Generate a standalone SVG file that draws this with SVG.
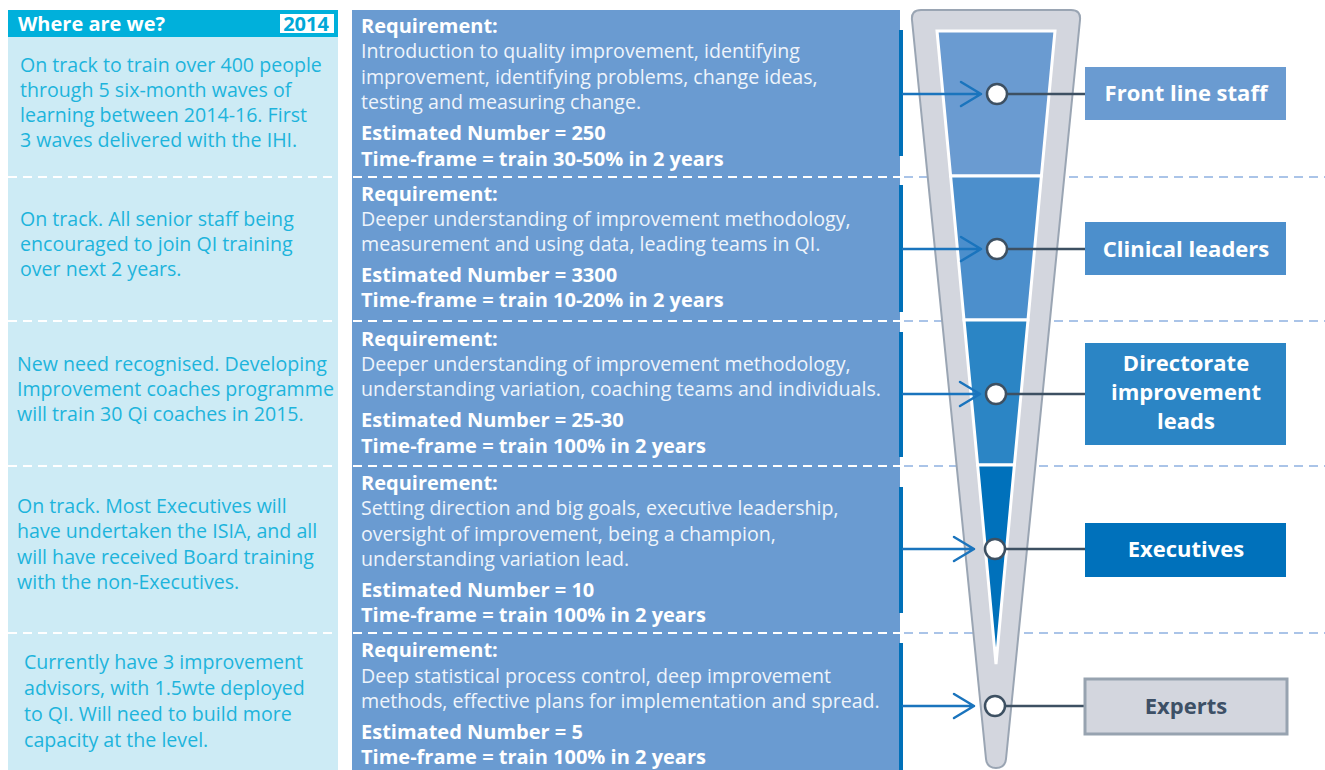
<svg xmlns="http://www.w3.org/2000/svg" width="1325" height="770" viewBox="0 0 1325 770">
<style>
  .lt { font-family: "Open Sans", "Noto Sans", sans-serif; font-size: 19.6px; fill: #1db4dc; }
  .mb { font-family: "Open Sans", "Noto Sans", sans-serif; font-size: 20px; fill: #ffffff; font-weight: bold; }
  .mn { font-family: "Open Sans", "Noto Sans", sans-serif; font-size: 19.6px; fill: #eef4fb; }
  .bx { font-family: "Open Sans", "Noto Sans", sans-serif; font-size: 22px; fill: #ffffff; font-weight: bold; text-anchor: middle; }
  .dw { stroke: #ffffff; stroke-width: 2; stroke-dasharray: 9 6; fill: none; }
  .db { stroke: #aac4e8; stroke-width: 2; stroke-dasharray: 9 6; fill: none; }
  .bar { fill: #0070b8; }
  .arr { stroke: #1a74bd; stroke-width: 2.5; fill: none; stroke-linecap: round; stroke-linejoin: round; }
  .lnk { stroke: #3d5062; stroke-width: 2.5; fill: none; }
  .dot { fill: #ffffff; stroke: #3d5062; stroke-width: 2.5; }
  .seg { stroke: #ffffff; stroke-width: 3; stroke-linejoin: miter; }
</style>

<!-- left column -->
<g id="where-column">
  <rect x="8" y="10" width="330" height="760" fill="#cdebf5"/>
  <rect x="8" y="10" width="330" height="27" fill="#00b0db"/>
  <text x="18" y="31" font-family="'Open Sans', 'Noto Sans', sans-serif" font-size="20" font-weight="bold" fill="#ffffff">Where are we?</text>
  <rect x="280" y="14" width="54" height="19" fill="#ffffff"/>
  <text x="306" y="31" font-family="'Open Sans', 'Noto Sans', sans-serif" font-size="20" font-weight="bold" fill="#00a8d8" text-anchor="middle">2014</text>
  <text class="lt" x="20" y="72">On track to train over 400 people</text>
  <text class="lt" x="20" y="97">through 5 six-month waves of</text>
  <text class="lt" x="20" y="122">learning between 2014-16. First</text>
  <text class="lt" x="20" y="147">3 waves delivered with the IHI.</text>
  <text class="lt" x="20" y="226">On track. All senior staff being</text>
  <text class="lt" x="20" y="251">encouraged to join QI training</text>
  <text class="lt" x="20" y="276">over next 2 years.</text>
  <text class="lt" x="17" y="371">New need recognised. Developing</text>
  <text class="lt" x="17" y="396">Improvement coaches programme</text>
  <text class="lt" x="17" y="421">will train 30 Qi coaches in 2015.</text>
  <text class="lt" x="17" y="513">On track. Most Executives will</text>
  <text class="lt" x="17" y="538">have undertaken the ISIA, and all</text>
  <text class="lt" x="17" y="564">will have received Board training</text>
  <text class="lt" x="17" y="589">with the non-Executives.</text>
  <text class="lt" x="24" y="669">Currently have 3 improvement</text>
  <text class="lt" x="24" y="695">advisors, with 1.5wte deployed</text>
  <text class="lt" x="24" y="721">to QI. Will need to build more</text>
  <text class="lt" x="24" y="747">capacity at the level.</text>
</g>

<!-- middle column -->
<g id="requirements-column">
  <rect x="352" y="10" width="548" height="760" fill="#6a9bd1"/>
  <text class="mb" x="361" y="33">Requirement:</text>
  <text class="mn" x="361" y="58">Introduction to quality improvement, identifying</text>
  <text class="mn" x="361" y="84">improvement, identifying problems, change ideas,</text>
  <text class="mn" x="361" y="109">testing and measuring change.</text>
  <text class="mb" x="361" y="140">Estimated Number = 250</text>
  <text class="mb" x="361" y="166">Time-frame = train 30-50% in 2 years</text>

  <text class="mb" x="361" y="201">Requirement:</text>
  <text class="mn" x="361" y="226">Deeper understanding of improvement methodology,</text>
  <text class="mn" x="361" y="251">measurement and using data, leading teams in QI.</text>
  <text class="mb" x="361" y="282">Estimated Number = 3300</text>
  <text class="mb" x="361" y="307">Time-frame = train 10-20% in 2 years</text>

  <text class="mb" x="361" y="346">Requirement:</text>
  <text class="mn" x="361" y="371">Deeper understanding of improvement methodology,</text>
  <text class="mn" x="361" y="396">understanding variation, coaching teams and individuals.</text>
  <text class="mb" x="361" y="427">Estimated Number = 25-30</text>
  <text class="mb" x="361" y="453">Time-frame = train 100% in 2 years</text>

  <text class="mb" x="361" y="490">Requirement:</text>
  <text class="mn" x="361" y="515">Setting direction and big goals, executive leadership,</text>
  <text class="mn" x="361" y="541">oversight of improvement, being a champion,</text>
  <text class="mn" x="361" y="566">understanding variation lead.</text>
  <text class="mb" x="361" y="597">Estimated Number = 10</text>
  <text class="mb" x="361" y="622">Time-frame = train 100% in 2 years</text>

  <text class="mb" x="361" y="657">Requirement:</text>
  <text class="mn" x="361" y="683">Deep statistical process control, deep improvement</text>
  <text class="mn" x="361" y="708">methods, effective plans for implementation and spread.</text>
  <text class="mb" x="361" y="739">Estimated Number = 5</text>
  <text class="mb" x="361" y="764">Time-frame = train 100% in 2 years</text>
</g>

<!-- separators -->
<g id="separators">
  <path class="dw" d="M8 177H900M8 321H900M8 466H900M8 633H900"/>
  <path class="db" d="M904 177H1325M904 321H1325M904 466H1325M904 633H1325"/>
</g>

<!-- funnel -->
<g id="funnel">
  <path d="M921 10 L1071 10 Q1081 10 1080 20 L1006 759 Q1005 768 996 768 Q987 768 986 759 L912 20 Q911 10 921 10 Z" fill="#d3d6de" stroke="#9aa5b3" stroke-width="2"/>
  <polygon class="seg" points="937,31 1055,31 1041.4,176 950.6,176" fill="#6a9bd1"/>
  <polygon class="seg" points="950.6,176 1041.4,176 1028,320 964,320" fill="#4c8fcc"/>
  <polygon class="seg" points="964,320 1028,320 1014.4,465 977.6,465" fill="#2b85c5"/>
  <polygon class="seg" points="977.6,465 1014.4,465 996,664" fill="#0071bb"/>
</g>

<!-- connectors -->
<g id="connectors">
  <rect class="bar" x="899" y="30" width="4" height="126"/>
  <rect class="bar" x="899" y="185" width="4" height="127"/>
  <rect class="bar" x="899" y="332" width="4" height="125"/>
  <rect class="bar" x="899" y="487" width="4" height="126"/>
  <rect class="bar" x="899" y="643" width="4" height="127"/>

  <path class="arr" d="M903 94H981M961 82L981 94L961 106"/>
  <path class="arr" d="M903 249H981M961 237L981 249L961 261"/>
  <path class="arr" d="M903 394H980M960 382L980 394L960 406"/>
  <path class="arr" d="M903 549H974M954 537L974 549L954 561"/>
  <path class="arr" d="M903 706H974M954 694L974 706L954 718"/>

  <path class="lnk" d="M1007 94H1085M1007 249H1085M1006 394H1085M1005 549H1085M1005 706H1085"/>
  <circle class="dot" cx="997" cy="94" r="10"/>
  <circle class="dot" cx="997" cy="249" r="10"/>
  <circle class="dot" cx="996" cy="394" r="10"/>
  <circle class="dot" cx="995" cy="549" r="10"/>
  <circle class="dot" cx="995" cy="706" r="10"/>
</g>

<!-- right boxes -->
<g id="front-line-staff">
  <rect x="1085" y="67" width="201" height="53" fill="#6a9bd1"/>
  <text class="bx" x="1186" y="101">Front line staff</text>
</g>
<g id="clinical-leaders">
  <rect x="1085" y="222" width="201" height="53" fill="#4c8fcc"/>
  <text class="bx" x="1186" y="257">Clinical leaders</text>
</g>
<g id="directorate-improvement-leads">
  <rect x="1085" y="343" width="201" height="102" fill="#2b85c5"/>
  <text class="bx" x="1186" y="371">Directorate</text>
  <text class="bx" x="1186" y="400">improvement</text>
  <text class="bx" x="1186" y="429">leads</text>
</g>
<g id="executives">
  <rect x="1085" y="523" width="201" height="54" fill="#0071bb"/>
  <text class="bx" x="1186" y="557">Executives</text>
</g>
<g id="experts">
  <rect x="1085" y="679" width="202" height="55" fill="#d3d6de" stroke="#97a3b0" stroke-width="3"/>
  <text class="bx" x="1186" y="714" style="fill:#3d5066">Experts</text>
</g>
</svg>
